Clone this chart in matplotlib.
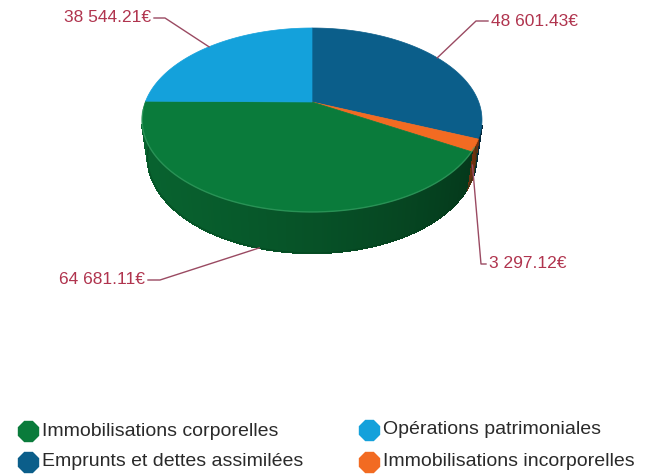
import numpy as np
import matplotlib
matplotlib.use("Agg")
import matplotlib.pyplot as plt
from matplotlib.collections import PolyCollection
from matplotlib.colors import to_rgb

# ---------------- data ----------------
categories = ["Immobilisations corporelles", "Opérations patrimoniales",
              "Emprunts et dettes assimilées", "Immobilisations incorporelles"]
values = [64681.11, 38544.21, 48601.43, 3297.12]
colors = ["#0a7b3b", "#14a1db", "#0b5e8a", "#f26b22"]
pie_order = [2, 3, 0, 1]          # drawing order, clockwise from 12 o'clock

# ---------------- projection (3D perspective pie) ----------------
cx, cy = 312.0, 102.0             # screen position of pie centre (pixels)
s_e, c_e = 0.5307, 0.848          # sin / cos of elevation
Dcam, Fcam, H = 4.337, 723.0, 0.2685


def proj(x, y, z):
    depth = Dcam + y * c_e - z * s_e
    return cx + Fcam * x / depth, cy - Fcam * (y * s_e + z * c_e) / depth


def rim(t, z):
    return proj(np.cos(t), np.sin(t), z)


def shade(col, t):
    f = 0.74 + 0.26 * np.cos(t - np.deg2rad(200))
    r, g, b = to_rgb(col)
    return (r * f * 0.8, g * f * 0.8, b * f * 0.8)


fig = plt.figure(figsize=(6.56, 4.75), dpi=100)
ax = fig.add_axes([0, 0, 1, 1])
ax.set_xlim(0, 656)
ax.set_ylim(475, 0)
ax.axis("off")

total = float(sum(values))
start = np.pi / 2
slices = []
for i in pie_order:
    sweep = 2 * np.pi * values[i] / total
    slices.append((i, start, start - sweep))
    start -= sweep

# side walls (painter's order: far first)
quads, qcols, keys = [], [], []
for i, a1, a2 in slices:
    n = max(4, int(abs(a1 - a2) / np.deg2rad(0.5)))
    ts = np.linspace(a1, a2, n + 1)
    for t0, t1 in zip(ts[:-1], ts[1:]):
        tm = 0.5 * (t0 + t1)
        if np.sin(tm) > -1.0 / (Dcam * c_e) + 0.02:
            continue
        quad = [rim(t0, 0), rim(t1, 0), rim(t1, -H), rim(t0, -H)]
        quads.append(quad)
        qcols.append(shade(colors[i], tm))
        keys.append(np.sin(tm))
order = np.argsort(keys)[::-1]
quads = [quads[k] for k in order]
qcols = [qcols[k] for k in order]
ax.add_collection(PolyCollection(quads, facecolors=qcols, edgecolors=qcols,
                                 linewidths=1.0, antialiased=False, zorder=2))
# smooth outline of the wall bottom
ts = np.linspace(np.deg2rad(164), np.deg2rad(376), 300)
bx, by = zip(*[rim(t, -H) for t in ts])
ax.plot(bx, by, color="#04401c", lw=0.8, alpha=0.5, zorder=2.5)

# top faces
for i, a1, a2 in slices:
    n = max(4, int(abs(a1 - a2) / np.deg2rad(0.5)))
    ts = np.linspace(a1, a2, n + 1)
    pts = [proj(0, 0, 0)] + [rim(t, 0) for t in ts]
    ax.add_patch(plt.Polygon(pts, closed=True, facecolor=colors[i],
                             edgecolor=colors[i], linewidth=0.5, zorder=3))

# subtle highlight on the front rim
ts = np.linspace(np.deg2rad(185), np.deg2rad(332), 200)
hx, hy = zip(*[rim(t, 0) for t in ts])
ax.plot(hx, hy, color="#3fa56a", lw=1.0, alpha=0.6, zorder=4)

# ---------------- value labels with leader lines ----------------
label_color = "#b0344e"
line_color = "#9a4a62"
anchor_z = {0: -1.0, 1: 0.0, 2: 0.0, 3: -0.5}
text_pos = {1: (152, 18, "right"), 2: (490, 21, "left"),
            0: (146, 280, "right"), 3: (488, 264, "left")}
elbow = {1: (165, 18), 2: (476, 21), 0: (160, 280), 3: (481, 264)}

for i, a1, a2 in slices:
    tm = 0.5 * (a1 + a2)
    ax_, ay_ = rim(tm, anchor_z[i] * H)
    ex, ey = elbow[i]
    tx, ty, ha = text_pos[i]
    ax.plot([ax_, ex, tx + (2 if ha == "right" else -2)], [ay_, ey, ty],
            color=line_color, lw=1.0, zorder=5)
    txt = f"{values[i]:,.2f}".replace(",", " ") + "€"
    ax.text(tx + (-1 if ha == "right" else 1), ty, txt, ha=ha, va="center",
            fontsize=12.5, color=label_color, family="Liberation Sans", zorder=6)

# ---------------- legend ----------------
leg_pos = {0: (28, 431), 1: (369, 430), 2: (28, 462), 3: (369, 462)}
for i, cat in enumerate(categories):
    mx, my = leg_pos[i]
    ax.plot([mx], [my], marker="8", markersize=15, color=colors[i],
            markeredgecolor=colors[i], zorder=5)
    ax.text(mx + 14, my, cat, ha="left", va="center", fontsize=14,
            color="#2a2a2a", family="Liberation Sans")

fig.savefig("out.png", dpi=100)
